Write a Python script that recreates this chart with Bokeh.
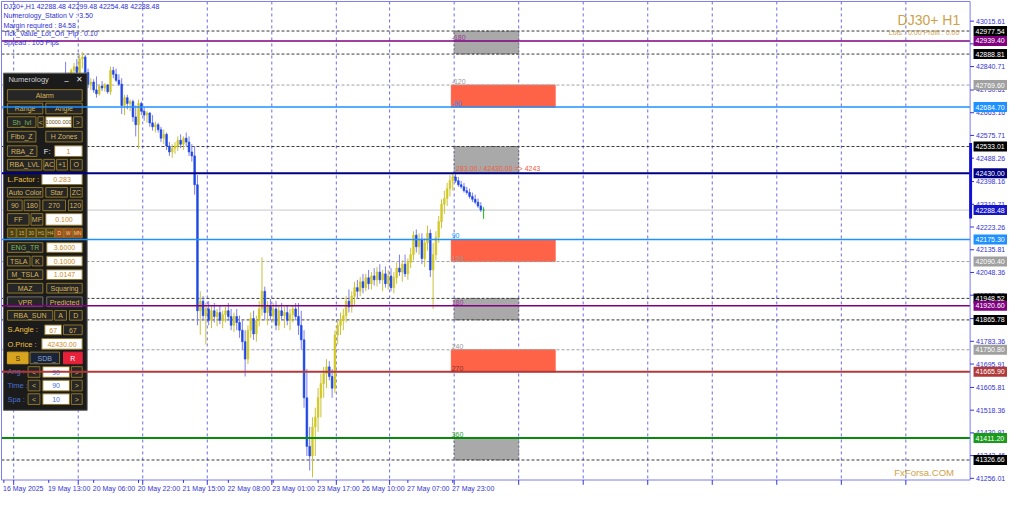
from bokeh.plotting import figure
from bokeh.models import Range1d
from bokeh.core.properties import value
from bokeh.embed import file_html
from bokeh.resources import INLINE

FONT = "Liberation Sans"

# ---------------- data (DJ30+, H1) ----------------
opens = [42684, 42676, 42665, 42654, 42669, 42706, 42721, 42729, 42714, 42732,
         42751, 42740, 42725, 42736, 42758, 42744, 42751, 42766, 42755, 42773,
         42758, 42781, 42803, 42796, 42803, 42826, 42840, 42818, 42870, 42878,
         42818, 42773, 42781, 42751, 42736, 42766, 42758, 42770, 42744, 42826,
         42811, 42788, 42773, 42691, 42721, 42699, 42706, 42647, 42617, 42699,
         42669, 42654, 42662, 42624, 42609, 42617, 42598, 42565, 42580, 42535,
         42512, 42527, 42535, 42557, 42542, 42565, 42550, 42512, 42497, 42386,
         41901, 41938, 41882, 41908, 41864, 41901, 41879, 41894, 41864, 41886,
         41901, 41879, 41845, 41879, 41856, 41826, 41782, 41715, 41826, 41871,
         41812, 41864, 41908, 41976, 41894, 41920, 41882, 41908, 41845, 41901,
         41882, 41894, 41864, 41886, 41908, 41879, 41845, 41789, 41566, 41379,
         41342, 41454, 41491, 41566, 41621, 41659, 41685, 41648, 41603, 41808,
         41845, 41864, 41882, 41938, 41916, 41957, 41990, 41976, 42013, 41990,
         42028, 42005, 42035, 42020, 42050, 42020, 42043, 42005, 42035, 41990,
         42028, 42065, 42050, 42080, 42043, 42087, 42117, 42192, 42147, 42177,
         42102, 42162, 42199, 42058, 42117, 42184, 42244, 42311, 42333, 42371,
         42401, 42416, 42401, 42386, 42378, 42363, 42356, 42341, 42330, 42319,
         42304, 42288.48]
highs = [42703, 42691, 42684, 42676, 42721, 42736, 42744, 42751, 42740, 42766,
         42773, 42758, 42747, 42766, 42781, 42766, 42777, 42788, 42781, 42796,
         42788, 42811, 42859, 42818, 42833, 42855, 42870, 42885, 42896, 42885,
         42833, 42796, 42792, 42803, 42773, 42785, 42777, 42773, 42840, 42840,
         42833, 42811, 42796, 42732, 42732, 42714, 42714, 42691, 42714, 42706,
         42684, 42669, 42665, 42654, 42628, 42624, 42609, 42598, 42587, 42550,
         42542, 42550, 42572, 42580, 42572, 42587, 42572, 42542, 42535, 42423,
         41976, 41957, 41931, 41938, 41920, 41931, 41908, 41920, 41901, 41916,
         41931, 41908, 41894, 41908, 41882, 41864, 41826, 41845, 41894, 41901,
         41882, 41938, 42106, 41994, 41938, 41946, 41931, 41938, 41920, 41931,
         41916, 41923, 41908, 41920, 41931, 41931, 41901, 41826, 41677, 41454,
         41491, 41528, 41603, 41659, 41685, 41715, 41707, 41677, 41826, 41864,
         41894, 41908, 41957, 41983, 41976, 42013, 42020, 42031, 42043, 42043,
         42058, 42050, 42065, 42069, 42080, 42058, 42072, 42058, 42065, 42050,
         42087, 42117, 42095, 42117, 42102, 42143, 42207, 42214, 42199, 42199,
         42181, 42229, 42214, 42162, 42207, 42266, 42330, 42363, 42393, 42423,
         42430, 42430, 42416, 42401, 42393, 42378, 42371, 42356, 42348, 42333,
         42319, 42299.48]
lows = [42654, 42647, 42639, 42628, 42654, 42684, 42699, 42706, 42691, 42721,
        42729, 42710, 42699, 42721, 42736, 42721, 42732, 42744, 42736, 42751,
        42740, 42766, 42788, 42773, 42781, 42796, 42811, 42803, 42833, 42803,
        42758, 42751, 42740, 42721, 42729, 42747, 42744, 42736, 42732, 42796,
        42781, 42766, 42658, 42654, 42676, 42669, 42628, 42572, 42524, 42654,
        42632, 42624, 42609, 42594, 42587, 42587, 42550, 42542, 42520, 42497,
        42490, 42505, 42516, 42527, 42520, 42535, 42497, 42475, 42348, 41845,
        41808, 41864, 41771, 41845, 41834, 41856, 41841, 41849, 41834, 41856,
        41864, 41826, 41819, 41826, 41797, 41752, 41648, 41696, 41797, 41789,
        41782, 41841, 41882, 41864, 41845, 41864, 41856, 41826, 41826, 41864,
        41834, 41845, 41826, 41856, 41864, 41808, 41752, 41528, 41342, 41286,
        41260, 41342, 41435, 41491, 41566, 41603, 41633, 41566, 41584, 41771,
        41808, 41826, 41856, 41894, 41894, 41920, 41946, 41957, 41968, 41976,
        41983, 41983, 41998, 41994, 42005, 41976, 41990, 41983, 41976, 41968,
        42005, 42035, 42013, 42031, 42020, 42065, 42095, 42125, 42117, 42080,
        42069, 42132, 42031, 41908, 42095, 42162, 42218, 42274, 42304, 42341,
        42363, 42393, 42378, 42371, 42356, 42348, 42333, 42319, 42311, 42296,
        42281, 42254.48]
closes = [42676, 42665, 42654, 42669, 42706, 42721, 42729, 42714, 42732, 42751,
          42740, 42725, 42736, 42758, 42744, 42751, 42766, 42755, 42773, 42758,
          42781, 42803, 42796, 42803, 42826, 42840, 42818, 42870, 42878, 42818,
          42773, 42781, 42751, 42736, 42766, 42758, 42770, 42744, 42826, 42811,
          42788, 42773, 42691, 42721, 42699, 42706, 42647, 42617, 42699, 42669,
          42654, 42662, 42624, 42609, 42617, 42598, 42565, 42580, 42535, 42512,
          42527, 42535, 42557, 42542, 42565, 42550, 42512, 42497, 42386, 41901,
          41938, 41882, 41908, 41864, 41901, 41879, 41894, 41864, 41886, 41901,
          41879, 41845, 41879, 41856, 41826, 41782, 41715, 41826, 41871, 41812,
          41864, 41908, 41976, 41894, 41920, 41882, 41908, 41845, 41901, 41882,
          41894, 41864, 41886, 41908, 41879, 41845, 41789, 41566, 41379, 41342,
          41454, 41491, 41566, 41621, 41659, 41685, 41648, 41603, 41808, 41845,
          41864, 41882, 41938, 41916, 41957, 41990, 41976, 42013, 41990, 42028,
          42005, 42035, 42020, 42050, 42020, 42043, 42005, 42035, 41990, 42028,
          42065, 42050, 42080, 42043, 42087, 42117, 42192, 42147, 42177, 42102,
          42162, 42199, 42058, 42117, 42184, 42244, 42311, 42333, 42371, 42401,
          42416, 42401, 42386, 42378, 42363, 42356, 42341, 42330, 42319, 42304,
          42289, 42288.48]

x_label_bars = [0, 16, 32, 48, 64, 80, 96, 112, 128, 144, 160]
x_labels = ["16 May 2025", "19 May 13:00", "20 May 06:00", "20 May 22:00",
            "21 May 15:00", "22 May 08:00", "23 May 01:00", "23 May 17:00",
            "26 May 10:00", "27 May 07:00", "27 May 23:00"]
day_starts = [3.5, 26.5, 49.5, 72.5, 95.5, 118.5, 137.5, 160.5, 183.5,
              206.5, 229.5, 252.5, 275.5, 298.5, 321.5]
y_ticks = [43015.61, 42928.16, 42840.71, 42750.61, 42663.16, 42575.71, 42488.26,
           42398.16, 42310.71, 42223.26, 42135.81, 42048.36, 41960.91, 41870.81,
           41783.36, 41695.91, 41605.81, 41518.36, 41430.91, 41343.46, 41256.01]

black_dash_levels = [42977.54, 42888.81, 42533.01, 41948.52, 41865.78, 41326.66]
gray_dash_levels = [42769.60, 42090.40, 41750.80]
purple_levels = [42939.40, 41920.60]
blue_levels = [42684.70, 42175.30]
navy_levels = [42430.00]
red_levels = [41665.90]
green_levels = [41411.20]

gray_zone_top = [42977.54, 42533.01, 41948.52, 41411.20]
gray_zone_bottom = [42888.81, 42430.00, 41865.78, 41326.66]
red_zone_top = [42769.60, 42175.30, 41750.80]
red_zone_bottom = [42684.70, 42090.40, 41665.90]
gray_zone_span = (160.5, 183.5)
red_zone_span = (159.5, 196.5)

angle_texts = ["-180", "-120", "-90", "90", "120", "180", "240", "270", "360"]
angle_levels = [42939.40, 42769.60, 42684.70, 42175.30, 42090.40, 41920.60,
                41750.80, 41665.90, 41411.20]
angle_colors = ["#9A3A9A", "#9A9A9A", "#1E90FF", "#1E90FF", "#9A9A9A", "#9A3A9A",
                "#9A9A9A", "#8B2E2E", "#2E9A2E"]

# ---------------- colours ----------------
C_PURPLE = "#800080"
C_BLUE = "#1E90FF"
C_NAVY = "#000080"
C_RED = "#B03A3A"
C_GREEN = "#0A8A0A"
C_BLACKD = "#3A3A3A"
C_GRAYD = "#A0A0A0"
AXIS_BLUE = "#7B7BEF"
TXT_BLUE = "#3434D6"
GOLD = "#CFA24A"

# whole canvas is the frame; the terminal-style scales are drawn by hand
p = figure(width=1008, height=495, output_backend="svg", toolbar_location=None,
           x_range=Range1d(-1.2018, 358.09), y_range=Range1d(41190.0, 43095.0),
           x_axis_location=None, y_axis_location=None,
           min_border=0, background_fill_color="white", border_fill_color="white")
p.outline_line_color = None
p.grid.visible = False
# reference-pixel coordinate system for the terminal UI overlays
p.extra_x_ranges = {"px": Range1d(0, 1024)}
p.extra_y_ranges = {"py": Range1d(511, 0)}
PX = dict(x_range_name="px", y_range_name="py")
CHART_L, CHART_R, CHART_T, CHART_B = 1, 985, 1, 495

# vertical day grid
p.segment(x0=day_starts, x1=day_starts, y0=[CHART_T] * len(day_starts),
          y1=[CHART_B] * len(day_starts), y_range_name="py",
          line_color="#6A6AEE", line_dash="3 3", line_width=1)

# ---------------- zones ----------------
p.quad(left=[gray_zone_span[0]] * len(gray_zone_top), right=[gray_zone_span[1]] * len(gray_zone_top),
       top=gray_zone_top, bottom=gray_zone_bottom, fill_color="#A9A9A9",
       line_color="#6A6A6A", line_dash="2 2", line_width=1)
p.quad(left=[red_zone_span[0]] * len(red_zone_top), right=[red_zone_span[1]] * len(red_zone_top),
       top=red_zone_top, bottom=red_zone_bottom, fill_color="#FF6347", line_color="#FF6347")


def hlines(levels, **kw):
    n = len(levels)
    p.segment(x0=[CHART_L] * n, x1=[CHART_R] * n, y0=levels, y1=levels,
              x_range_name="px", **kw)


# ---------------- dashed levels ----------------
hlines(black_dash_levels, line_color=C_BLACKD, line_dash="3 2", line_width=1)
hlines(gray_dash_levels, line_color=C_GRAYD, line_dash="3 2", line_width=1)
hlines([closes[-1]], line_color="#C8C8C8", line_width=1)

# ---------------- candles ----------------
idx = list(range(len(closes)))
body_top = [max(o, c) for o, c in zip(opens, closes)]
body_bot = [min(o, c) for o, c in zip(opens, closes)]
body_col = ["#D4C826" if c > o else ("#1E48E2" if c < o else "#1FB51F") for o, c in zip(opens, closes)]
wick_col = ["#C9C23A" if c > o else ("#7E7EF0" if c < o else "#1FB51F") for o, c in zip(opens, closes)]
p.segment(x0=idx, y0=lows, x1=idx, y1=highs, line_color=wick_col, line_width=1)
p.vbar(x=idx, width=0.62, top=body_top, bottom=body_bot, fill_color=body_col,
       line_color=body_col, line_width=0.6)

# ---------------- indicator panel (UI overlay, reference pixels) ----------------
BTN_FILL = "#262626"
BTN_LINE = "#8C7428"
GOLD_TXT = "#D8B45A"
kinds = {
    "btn": (BTN_FILL, BTN_LINE, GOLD_TXT),
    "btng": (BTN_FILL, BTN_LINE, "#7DB65A"),
    "btnd": (BTN_FILL, "#707070", GOLD_TXT),
    "inp": ("#FFFFFF", BTN_LINE, "#D08A2A"),
    "inps": ("#FFFFFF", BTN_LINE, "#6A5020"),
    "inpb": ("#FFFFFF", BTN_LINE, "#4A70D8"),
    "gold": ("#D9A520", "#D9A520", "#3A2A00"),
    "navy": ("#1A2438", BTN_LINE, "#8AA0D0"),
    "red": ("#E8203A", "#E8203A", "#FFFFFF"),
    "tf": ("#4E4214", BTN_LINE, GOLD_TXT),
    "tfo": ("#A0501C", BTN_LINE, "#F0D090"),
}
panel_items = [
    (7, 92, 83, 104, "Alarm", "btn"),
    (7, 106, 43, 117, "Range", "btn"), (46, 106, 83, 117, "Angle", "btn"),
    (7, 120, 36, 131, "Sh_lvl", "btng"), (38, 120, 44, 131, "<", "btn"),
    (46, 120, 72, 131, "10000.000", "inps"), (74, 120, 83, 131, ">", "btn"),
    (7, 135, 36, 146, "Fibo_Z", "btn"), (46, 135, 83, 146, "H Zones", "btn"),
    (7, 150, 37, 161, "RBA_Z", "btn"), (55, 150, 83, 161, "1", "inp"),
    (7, 164, 42, 175, "RBA_LVL", "btn"), (44, 164, 55, 175, "AC", "btn"),
    (57, 164, 68, 175, "+1", "btn"), (71, 164, 83, 175, "O", "btn"),
    (42, 179, 83, 190, "0.283", "inp"),
    (7, 193, 43, 203, "Auto Color", "btn"), (46, 193, 68, 203, "Star", "btn"),
    (71, 193, 83, 203, "ZC", "btn"),
    (7, 206, 22, 217, "90", "btn"), (24, 206, 40, 217, "180", "btn"),
    (43, 206, 66, 217, "270", "btn"), (69, 206, 83, 217, "120", "btn"),
    (7, 220, 29, 232, "FF", "btn"), (31, 220, 43, 232, "MF", "btn"),
    (46, 220, 83, 232, "0.100", "inp"),
    (7, 235, 16, 245, "5", "tf"), (16.5, 235, 26, 245, "15", "tf"),
    (26.5, 235, 36, 245, "30", "tf"), (36.5, 235, 46, 245, "H1", "tf"),
    (46.5, 235, 55, 245, "H4", "tf"), (55.5, 235, 64, 245, "D", "tfo"),
    (64.5, 235, 73, 245, "W", "tfo"), (73.5, 235, 83, 245, "MN", "tfo"),
    (7, 250, 43, 260, "ENG_TR", "btng"), (47, 250, 83, 260, "3.6000", "inp"),
    (7, 264, 30, 274, "TSLA", "btn"), (32, 264, 43, 274, "K", "btn"),
    (47, 264, 83, 274, "0.1000", "inp"),
    (7, 278, 43, 288, "M_TSLA", "btn"), (47, 278, 83, 288, "1.0147", "inp"),
    (7, 292, 43, 302, "MAZ", "btn"), (47, 292, 83, 302, "Squaring", "btn"),
    (7, 306, 43, 316, "VPR", "btnd"), (47, 306, 83, 316, "Predicted", "btnd"),
    (7, 320, 53, 330, "RBA_SUN", "btn"), (55, 320, 67, 330, "A", "btn"),
    (70, 320, 83, 330, "D", "btn"),
    (45, 335, 62, 345, "67", "inp"), (64, 335, 83, 345, "67", "btn"),
    (42, 349, 83, 360, "42430.00", "inp"),
    (7, 363, 28, 375, "S", "gold"), (30, 363, 60, 375, "_SDB_", "navy"),
    (64, 363, 83, 375, "R", "red"),
    (28, 378, 40, 389, "<", "btn"), (43, 378, 70, 389, "90", "inpb"), (72, 378, 83, 389, ">", "btn"),
    (28, 392, 40, 403, "<", "btn"), (43, 392, 70, 403, "90", "inpb"), (72, 392, 83, 403, ">", "btn"),
    (28, 406, 40, 417, "<", "btn"), (43, 406, 70, 417, "10", "inpb"), (72, 406, 83, 417, ">", "btn"),
]
panel_labels = [
    (8, 82, "Numerology", "#D0D0D0"), (44, 156, "F:", "#F0F0F0"),
    (7, 184.5, "L.Factor :", "#F0C040"), (7, 340, "S.Angle :", "#F0C040"),
    (7, 355, "O.Price :", "#F0C040"), (7, 383.5, "Ang :", "#4A6FD0"),
    (7, 397.5, "Time :", "#4A6FD0"), (7, 411.5, "Spa :", "#4A6FD0"),
]

p.quad(left=[3], right=[88], top=[75], bottom=[423], fill_color="#1B1B1B",
       line_color="#5A5A5A", line_width=1, **PX)
p.quad(left=[it[0] for it in panel_items], right=[it[2] for it in panel_items],
       top=[it[1] for it in panel_items], bottom=[it[3] for it in panel_items],
       fill_color=[kinds[it[5]][0] for it in panel_items],
       line_color=[kinds[it[5]][1] for it in panel_items], line_width=1, **PX)
small = [it for it in panel_items if it[5] in ("tf", "tfo")]
normal = [it for it in panel_items if it[5] not in ("tf", "tfo", "inps")]
tiny_inp = [it for it in panel_items if it[5] == "inps"]
for group, size in ((normal, "7px"), (small, "5px"), (tiny_inp, "5.5px")):
    p.text(x=[(it[0] + it[2]) / 2 for it in group], y=[(it[1] + it[3]) / 2 + 0.3 for it in group],
           text=[it[4] for it in group], text_color=[kinds[it[5]][2] for it in group],
           text_align="center", text_baseline="middle", text_font=value(FONT),
           text_font_size=size, **PX)
p.text(x=[t[0] for t in panel_labels], y=[t[1] for t in panel_labels],
       text=[t[2] for t in panel_labels], text_color=[t[3] for t in panel_labels],
       text_align="left", text_baseline="middle", text_font=value(FONT),
       text_font_size="7.5px", **PX)
p.text(x=[67, 80], y=[80, 82], text=["_", "✕"], text_color="#E0E0E0", text_align="center",
       text_baseline="middle", text_font=value("DejaVu Sans"), text_font_size="8px", **PX)

# ---------------- solid levels (drawn over the panel) ----------------
hlines(purple_levels, line_color=C_PURPLE, line_width=1.5)
hlines(blue_levels, line_color=C_BLUE, line_width=1.5)
hlines(navy_levels, line_color=C_NAVY, line_width=2)
hlines(red_levels, line_color=C_RED, line_width=2)
hlines(green_levels, line_color=C_GREEN, line_width=2)

# ---------------- angle texts ----------------
p.text(x=[159.6] * len(angle_texts), y=angle_levels, text=angle_texts, text_color=angle_colors,
       text_align="left", text_baseline="bottom", text_font=value(FONT), text_font_size="7px",
       y_offset=-1)
p.text(x=[161.2], y=navy_levels,
       text=["%.2f / %.2f  => %d" % (283.0, navy_levels[0], navy_levels[0] / 10)],
       text_color="#F05A3A", text_align="left", text_baseline="bottom",
       text_font=value(FONT), text_font_size="7px", y_offset=-1)

# ---------------- header texts ----------------
header = ["DJ30+,H1  %.2f %.2f %.2f %.2f" % (opens[-1], highs[-1], lows[-1], closes[-1]),
          "Numerology_Station V : 3.50", "Margin required : 84.58",
          "Tick_Value_Lot_On_Pip : 0.10", "Spread : 105  Pips"]
p.text(x=[3] * 5, y=[6.5, 16, 25.5, 34.5, 43], text=header, text_color="#2E2ED8",
       text_align="left", text_baseline="middle", text_font=value(FONT),
       text_font_size="7px", **PX)
p.text(x=[975], y=[20.5], text=["DJ30+ H1"], text_color=GOLD, text_align="right",
       text_baseline="middle", text_font=value(FONT), text_font_size="14px", **PX)
p.text(x=[974], y=[33.5], text=["Lots : 0.00 Profit : 0.00"], text_color=GOLD,
       text_align="right", text_baseline="middle", text_font=value(FONT),
       text_font_size="7px", **PX)
p.text(x=[908], y=[487], text=["FxForsa.COM"], text_color=GOLD, text_align="left",
       text_baseline="middle", text_font=value(FONT), text_font_size="9.5px", **PX)

# ---------------- chart border and scales ----------------
p.segment(x0=[CHART_L, CHART_L, CHART_R, CHART_L], y0=[CHART_T, CHART_T, CHART_T, CHART_B],
          x1=[CHART_R, CHART_L, CHART_R, CHART_R], y1=[CHART_T, CHART_B, CHART_B, CHART_B],
          line_color=AXIS_BLUE, line_width=1, **PX)
# price scale
p.segment(x0=[CHART_R] * len(y_ticks), x1=[CHART_R + 4] * len(y_ticks), y0=y_ticks, y1=y_ticks,
          x_range_name="px", line_color=TXT_BLUE, line_width=1)
p.text(x=[991] * len(y_ticks), y=y_ticks, text=["%.2f" % v for v in y_ticks],
       x_range_name="px", text_color=TXT_BLUE, text_align="left", text_baseline="middle",
       text_font=value(FONT), text_font_size="7px")
# current-price range marker on the scale
p.quad(left=[CHART_R - 1], right=[CHART_R + 2], top=[147], bottom=[225],
       fill_color="#1010D8", line_color=None, **PX)
# price tags
tags = ([(v, "#000000") for v in black_dash_levels] + [(v, "#A0A0A0") for v in gray_dash_levels]
        + [(v, C_PURPLE) for v in purple_levels] + [(v, C_BLUE) for v in blue_levels]
        + [(v, C_NAVY) for v in navy_levels] + [(v, C_RED) for v in red_levels]
        + [(v, "#1A9A1A") for v in green_levels] + [(closes[-1], "#1616C8")])
tag_vals = [t[0] for t in tags]
p.rect(x=[1005.5] * len(tags), y=tag_vals, width=34, height=10, height_units="screen",
       x_range_name="px", fill_color=[t[1] for t in tags], line_color=None)
p.text(x=[990.5] * len(tags), y=tag_vals, text=["%.2f" % v for v in tag_vals],
       x_range_name="px", text_color="white", text_align="left", text_baseline="middle",
       text_font=value(FONT), text_font_size="7px")
# time scale
p.segment(x0=x_label_bars, x1=x_label_bars, y0=[CHART_B] * len(x_label_bars),
          y1=[CHART_B + 3] * len(x_label_bars), y_range_name="py", line_color=TXT_BLUE)
p.segment(x0=day_starts, x1=day_starts, y0=[CHART_B] * len(day_starts),
          y1=[CHART_B + 5] * len(day_starts), y_range_name="py", line_color=TXT_BLUE)
p.text(x=[b - 0.3 for b in x_label_bars], y=[503.5] * len(x_labels), text=x_labels,
       y_range_name="py", text_color=TXT_BLUE, text_align="left", text_baseline="middle",
       text_font=value(FONT), text_font_size="7px")

open("out.html", "w").write(file_html(p, INLINE, title="DJ30+ H1"))
